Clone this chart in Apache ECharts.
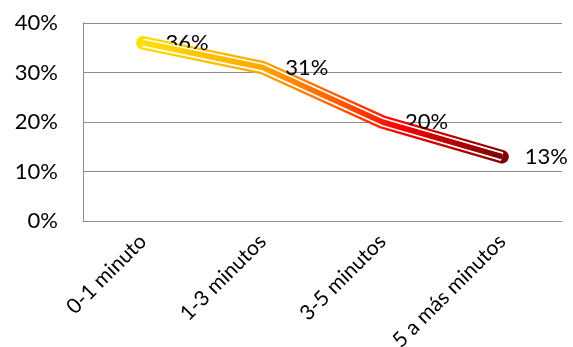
<!DOCTYPE html>
<html>
<head>
<meta charset="utf-8">
<script src="https://cdn.jsdelivr.net/npm/echarts@6/dist/echarts.min.js"></script>
<style>html,body{margin:0;padding:0;background:#fff}#c{width:573px;height:347px}</style>
</head>
<body>
<div id="c"></div>
<script>
var categories = ['0-1 minuto', '1-3 minutos', '3-5 minutos', '5 a más minutos'];
var values = [36, 31, 20, 13];
var yTicks = { min: 0, max: 40, interval: 10 };

var FONT = 'Lato';
function grad() {
  return new echarts.graphic.LinearGradient(0, 0, 1, 0, [
    { offset: 0, color: '#FFE000' },
    { offset: 0.33, color: '#FFA800' },
    { offset: 0.55, color: '#FF5A00' },
    { offset: 0.72, color: '#F40000' },
    { offset: 1, color: '#7A0000' }
  ]);
}
var chart = echarts.init(document.getElementById('c'), null, { renderer: 'canvas' });
chart.setOption({
  animation: false,
  backgroundColor: '#fff',
  grid: { left: 83, right: 11, top: 23, bottom: 126, containLabel: false, outerBoundsMode: 'none' },
  xAxis: {
    type: 'category',
    data: categories,
    boundaryGap: true,
    axisLine: { lineStyle: { color: '#8c8c8c', width: 1 } },
    axisTick: { show: false },
    axisLabel: { rotate: 45, margin: 17, color: '#000', fontFamily: FONT, fontSize: 21, interval: 0 }
  },
  yAxis: {
    type: 'value',
    min: yTicks.min, max: yTicks.max, interval: yTicks.interval,
    axisLine: { show: true, lineStyle: { color: '#8c8c8c', width: 1 } },
    axisTick: { show: false },
    splitLine: { lineStyle: { color: '#8c8c8c', width: 1 } },
    axisLabel: { formatter: '{value}%', margin: 25, color: '#000', fontFamily: FONT, fontSize: 22 }
  },
  series: [
    {
      type: 'line', data: values, z: 2,
      symbol: 'circle', symbolSize: 1, itemStyle: { color: 'rgba(0,0,0,0)' },
      lineStyle: { width: 13.5, color: grad(), cap: 'round', join: 'round' },
      label: { show: true, position: 'right', distance: 22, formatter: '{c}%', color: '#000', fontFamily: FONT, fontSize: 22 }
    },
    {
      type: 'line', data: values, z: 3, symbol: 'none', silent: true,
      lineStyle: { width: 9, color: '#ffffff', cap: 'butt', join: 'round' }
    },
    {
      type: 'line', data: values, z: 4, symbol: 'none', silent: true,
      lineStyle: { width: 5.5, color: grad(), cap: 'butt', join: 'round' }
    }
  ]
});
</script>
</body>
</html>
